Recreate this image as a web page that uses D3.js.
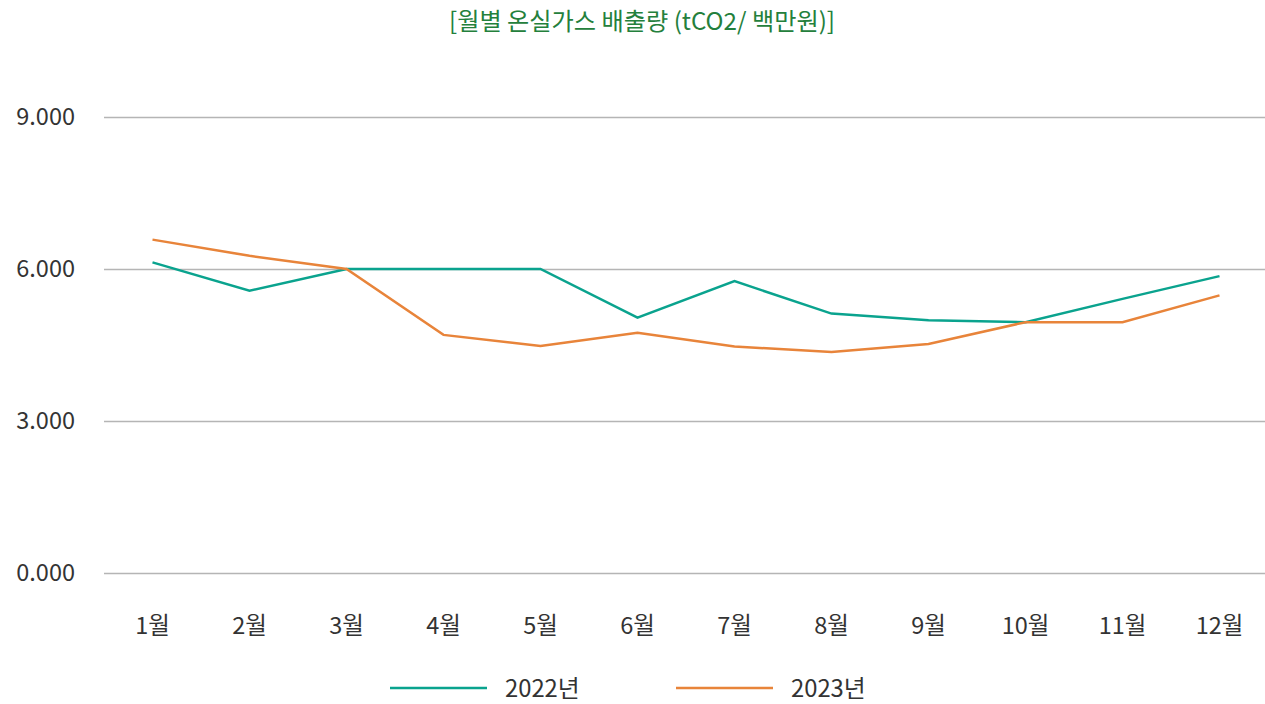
<!DOCTYPE html>
<html><head><meta charset="utf-8">
<script src="https://cdn.jsdelivr.net/npm/d3@7"></script>
<style>
html,body{margin:0;padding:0;background:#fff;}
svg{display:block;font-family:"Noto Sans CJK KR","Noto Sans",sans-serif;}
</style></head>
<body>
<svg id="c" width="1265" height="704"></svg>
<script>
const months = ["1월","2월","3월","4월","5월","6월","7월","8월","9월","10월","11월","12월"];
const seriesNames = ["2022년","2023년"];
const values2022 = [6.13, 5.57, 6.0, 6.0, 6.0, 5.04, 5.76, 5.12, 4.99, 4.95, 5.41, 5.86];
const values2023 = [6.58, 6.26, 6.0, 4.70, 4.48, 4.74, 4.47, 4.36, 4.52, 4.95, 4.95, 5.48];
const yTicks = [0, 3, 6, 9];
const titleText = "[월별 온실가스 배출량 (tCO2/ 백만원)]";

const colors = ["#0aa38e", "#e8843a"];
const svg = d3.select("#c");
const plotLeft = 104, plotRight = 1268, plotTop = 117, plotBottom = 573;
const fs = 23.5;

const x = d3.scaleBand().domain(months).range([plotLeft, plotRight]);
const y = d3.scaleLinear().domain([0, 9]).range([plotBottom, plotTop]);

svg.append("text").attr("x", 642).attr("y", 22).attr("dy", "0.35em").attr("text-anchor", "middle")
  .attr("font-size", 24.2).attr("fill", "#24803c").text(titleText);

const gy = svg.append("g").attr("transform", `translate(${plotLeft},0)`)
  .call(d3.axisLeft(y).tickValues(yTicks).tickSize(-(1265 - plotLeft)).tickFormat(d3.format(".3f")));
gy.select(".domain").remove();
gy.selectAll(".tick line").attr("stroke", "#b5b5b5").attr("stroke-width", 1.3);
gy.selectAll(".tick text").attr("x", -29).attr("font-size", fs).attr("fill", "#333")
  .attr("font-family", '"Noto Sans CJK KR","Noto Sans",sans-serif');

const gx = svg.append("g").attr("transform", `translate(0,${plotBottom})`)
  .call(d3.axisBottom(x).tickSize(0).tickPadding(0));
gx.select(".domain").remove();
gx.selectAll(".tick text").attr("y", 53).attr("dy", "0.35em").attr("font-size", fs).attr("fill", "#333")
  .attr("font-family", '"Noto Sans CJK KR","Noto Sans",sans-serif');

const line = d3.line().x((d, i) => x(months[i]) + x.bandwidth() / 2).y(d => y(d));
[values2022, values2023].forEach((vals, k) => {
  svg.append("path").datum(vals).attr("d", line).attr("fill", "none")
    .attr("stroke", colors[k]).attr("stroke-width", 2.5).attr("stroke-linejoin", "miter");
});

const legend = svg.append("g");
const legX = [390, 676];
seriesNames.forEach((n, k) => {
  legend.append("line").attr("x1", legX[k]).attr("x2", legX[k] + 97).attr("y1", 688).attr("y2", 688)
    .attr("stroke", colors[k]).attr("stroke-width", 2.5);
  legend.append("text").attr("x", legX[k] + 115).attr("y", 689).attr("dy", "0.35em")
    .attr("font-size", 23.8).attr("fill", "#333").text(n);
});
</script>
</body></html>
